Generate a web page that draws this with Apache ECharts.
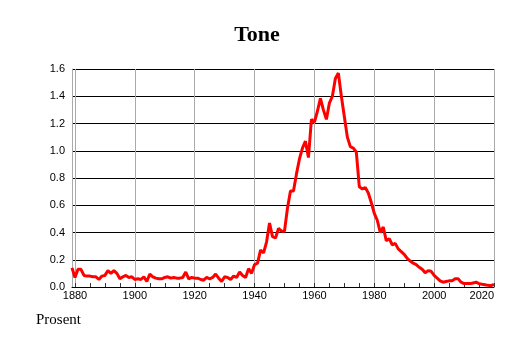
<!DOCTYPE html>
<html>
<head>
<meta charset="utf-8">
<script src="https://cdn.jsdelivr.net/npm/echarts@6/dist/echarts.min.js"></script>
<style>
  html, body { margin: 0; padding: 0; background: #fff; }
  #chart { width: 514px; height: 343px; }
</style>
</head>
<body>
<div id="chart"></div>
<script>
// years run from the left edge of the plot (1879) to 2020
var firstYear = 1879;
var values = [
  0.14,                                                          // 1879
  0.07, 0.13, 0.13, 0.085, 0.08, 0.08, 0.075, 0.075, 0.055, 0.08, // 1880-1889
  0.085, 0.12, 0.10, 0.12, 0.10, 0.06, 0.075, 0.085, 0.07, 0.075, // 1890-1899
  0.055, 0.06, 0.055, 0.075, 0.04, 0.095, 0.075, 0.065, 0.06, 0.06, // 1900-1909
  0.07, 0.075, 0.065, 0.07, 0.065, 0.065, 0.07, 0.11, 0.06, 0.07, // 1910-1919
  0.065, 0.065, 0.055, 0.05, 0.07, 0.06, 0.07, 0.095, 0.065, 0.04, // 1920-1929
  0.075, 0.07, 0.055, 0.08, 0.07, 0.11, 0.085, 0.07, 0.135, 0.10, // 1930-1939
  0.165, 0.175, 0.27, 0.25, 0.33, 0.47, 0.37, 0.36, 0.43, 0.41,   // 1940-1949
  0.41, 0.58, 0.705, 0.705, 0.83, 0.94, 1.02, 1.07, 0.95, 1.23,   // 1950-1959
  1.21, 1.29, 1.385, 1.30, 1.23, 1.35, 1.40, 1.53, 1.57, 1.40,    // 1960-1969
  1.25, 1.10, 1.03, 1.02, 0.99, 0.735, 0.72, 0.73, 0.69, 0.62,    // 1970-1979
  0.54, 0.49, 0.40, 0.44, 0.34, 0.355, 0.31, 0.32, 0.28, 0.26,    // 1980-1989
  0.24, 0.21, 0.19, 0.175, 0.165, 0.145, 0.13, 0.105, 0.12, 0.115, // 1990-1999
  0.085, 0.065, 0.045, 0.035, 0.04, 0.045, 0.045, 0.06, 0.06, 0.035, // 2000-2009
  0.025, 0.025, 0.025, 0.03, 0.035, 0.025, 0.02, 0.017, 0.012, 0.01, // 2010-2019
  0.02                                                           // 2020
];
var xLabels = [1880, 1900, 1920, 1940, 1960, 1980, 2000, 2020];
var xMinorTicks = [];
for (var t = 1880; t <= 2020; t += 5) xMinorTicks.push(t);

var seriesData = values.map(function (v, i) { return [firstYear + i, v]; });

var dom = document.getElementById("chart");
var myChart = echarts.init(dom);
var option = {
  backgroundColor: "#fff",
  animation: false,
  title: [
    {
      text: "Tone",
      left: "center",
      top: 19,
      textStyle: { fontFamily: "Liberation Serif", fontWeight: "bold", fontSize: 22, color: "#000" }
    },
    {
      text: "Prosent",
      left: 31,
      top: 308,
      textStyle: { fontFamily: "Liberation Serif", fontWeight: "normal", fontSize: 15, color: "#000" }
    }
  ],
  grid: { left: 72, right: 20, top: 69, bottom: 56, containLabel: false },
  xAxis: [
    {
      type: "value",
      min: 1879,
      max: 2020,
      position: "bottom",
      axisLine: { show: true, lineStyle: { color: "#000", width: 1 } },
      axisTick: { show: true, inside: true, length: 4, customValues: xMinorTicks, lineStyle: { color: "#333" } },
      axisLabel: {
        customValues: xLabels,
        fontFamily: "Liberation Sans",
        fontSize: 11,
        color: "#000",
        margin: 3,
        alignMaxLabel: "right",
        formatter: function (v) { return String(v); }
      },
      splitLine: { show: false }
    },
    {
      type: "value",
      min: 1879,
      max: 2020,
      position: "top",
      axisLine: { show: false },
      axisTick: { show: false, customValues: xLabels },
      axisLabel: { show: false },
      splitLine: { show: true, lineStyle: { color: "#aaa", width: 1 } }
    }
  ],
  yAxis: {
    type: "value",
    min: 0,
    max: 1.6,
    interval: 0.2,
    axisLine: { show: true, lineStyle: { color: "#aaa" } },
    axisTick: { show: false },
    axisLabel: {
      fontFamily: "Liberation Sans",
      fontSize: 11,
      color: "#000",
      margin: 7,
      formatter: function (v) { return v.toFixed(1); }
    },
    splitLine: { show: true, lineStyle: { color: "#000", width: 1 } }
  },
  series: [
    {
      name: "Tone",
      type: "line",
      xAxisIndex: 0,
      data: seriesData,
      showSymbol: false,
      lineStyle: { color: "#ff0000", width: 3 },
      z: 5
    }
  ]
};
option && "object" == typeof option && myChart.setOption(option, !0);
</script>
</body>
</html>
